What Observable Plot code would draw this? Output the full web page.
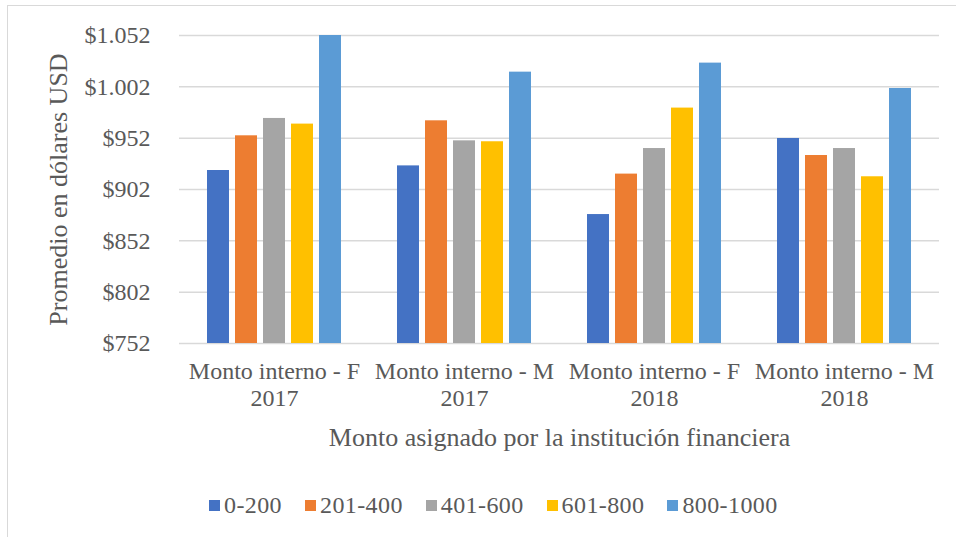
<!DOCTYPE html>
<html><head><meta charset="utf-8">
<script src="https://cdn.jsdelivr.net/npm/d3@7"></script>
<script src="https://cdn.jsdelivr.net/npm/@observablehq/plot@0.6"></script>
<style>
body{margin:0;background:#fff;font-family:"Liberation Serif","Times New Roman",serif;}
#wrap{position:relative;width:956px;height:537px;overflow:hidden;background:#fff;}
#chart{position:absolute;left:0;top:0;}
#border{position:absolute;left:7px;top:5px;width:1000px;height:600px;border:1.5px solid #d9d9d9;z-index:2;pointer-events:none;}
#legend{position:absolute;top:490px;left:209px;display:flex;align-items:center;gap:23px;font-size:24px;letter-spacing:0.4px;color:#595959;line-height:30px;font-family:"Liberation Serif","Times New Roman",serif;}
#legend .item{display:flex;align-items:center;gap:4px;}
#legend .sw{width:11px;height:11px;display:inline-block;}
</style>
</head><body>
<div id="wrap"><div id="chart"></div><div id="legend"></div><div id="border"></div></div>
<script>
const groups = ["Monto interno - F\n2017", "Monto interno - M\n2017", "Monto interno - F\n2018", "Monto interno - M\n2018"];
const series = ["0-200", "201-400", "401-600", "601-800", "800-1000"];
const colors = ["#4472C4", "#ED7D31", "#A5A5A5", "#FFC000", "#5B9BD5"];
const v0_200    = [920.5, 925.0, 877.6, 951.7];
const v201_400  = [954.3, 968.9, 917.0, 935.1];
const v401_600  = [971.2, 949.4, 941.9, 941.9];
const v601_800  = [965.7, 948.5, 981.3, 914.4];
const v800_1000 = [1052.0, 1016.3, 1025.1, 1000.4];
const yTicks = [752, 802, 852, 902, 952, 1002, 1052];
const yLabel = "Promedio en dólares USD";
const xLabel = "Monto asignado por la institución financiera";

const seriesValues = [v0_200, v201_400, v401_600, v601_800, v800_1000];
const data = [];
groups.forEach((g, i) => series.forEach((s, j) => data.push({group: g, series: s, value: seriesValues[j][i]})));

const fmt = d3.formatLocale({decimal: ",", thousands: ".", grouping: [3], currency: ["$", ""]}).format("$,");

const plot = Plot.plot({
  width: 956, height: 460,
  marginTop: 35, marginBottom: 117, marginLeft: 178, marginRight: 17,
  style: {fontFamily: "'Liberation Serif', 'Times New Roman', serif", color: "#595959", background: "transparent"},
  fx: {domain: groups, padding: 0, label: null},
  x: {domain: series, paddingInner: 0.2, paddingOuter: 0.88, axis: null},
  y: {domain: [yTicks[0], yTicks[yTicks.length - 1]]},
  color: {domain: series, range: colors},
  marks: [
    Plot.gridY(yTicks, {stroke: "#d9d9d9", strokeOpacity: 1, strokeWidth: 1.5}),
    Plot.barY(data, {fx: "group", x: "series", y1: yTicks[0], y2: "value", fill: "series"}),
    Plot.axisY(yTicks, {tickSize: 0, tickPadding: 29, tickFormat: fmt, fontSize: 24, fill: "#595959", label: null}),
    Plot.axisY([], {tickSize: 0, fontSize: 26, fill: "#595959", label: yLabel, labelAnchor: "center", labelArrow: "none", labelOffset: 131}),
    Plot.axisFx({anchor: "bottom", tickSize: 0, tickPadding: 16, fontSize: 24, lineHeight: 1.125, fill: "#595959", label: null}),
    Plot.axisFx([], {anchor: "bottom", tickSize: 0, fontSize: 26, fill: "#595959", label: xLabel, labelAnchor: "center", labelArrow: "none", labelOffset: 102})
  ]
});
document.getElementById("chart").appendChild(plot);

const legend = document.getElementById("legend");
series.forEach((s, i) => {
  const it = document.createElement("div");
  it.className = "item";
  const sw = document.createElement("span");
  sw.className = "sw";
  sw.style.background = colors[i];
  const t = document.createElement("span");
  t.textContent = s;
  it.appendChild(sw); it.appendChild(t);
  legend.appendChild(it);
});
</script>
</body></html>
